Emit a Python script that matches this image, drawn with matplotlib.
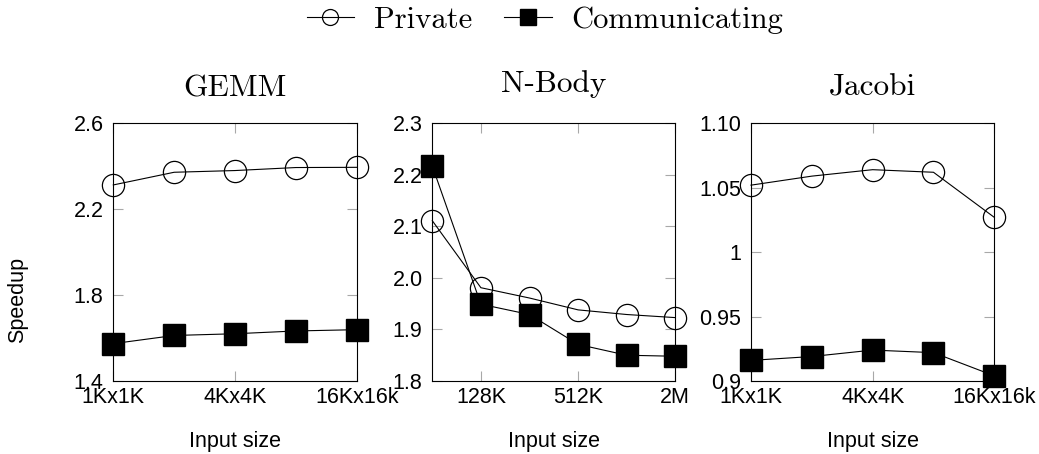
"""
Speedup of private vs communicating variants for GEMM, N-Body and Jacobi
across input sizes.
"""

import matplotlib
matplotlib.use("Agg")
import matplotlib.pyplot as plt
from matplotlib.lines import Line2D

# GEMM
gemm_sizes = ["1Kx1K", "2Kx2K", "4Kx4K", "8Kx8K", "16Kx16k"]
gemm_private = [2.313, 2.372, 2.380, 2.394, 2.395]
gemm_comm = [1.574, 1.612, 1.620, 1.633, 1.639]

# N-Body
nbody_sizes = ["64K", "128K", "256K", "512K", "1M", "2M"]
nbody_private = [2.111, 1.981, 1.961, 1.938, 1.929, 1.923]
nbody_comm = [2.217, 1.949, 1.929, 1.871, 1.850, 1.848]

# Jacobi
jacobi_sizes = ["1Kx1K", "2Kx2K", "4Kx4K", "8Kx8K", "16Kx16k"]
jacobi_private = [1.052, 1.059, 1.064, 1.062, 1.027]
jacobi_comm = [0.916, 0.919, 0.924, 0.922, 0.904]

panels = [
    ("GEMM", gemm_sizes, gemm_private, gemm_comm, [0, 2, 4],
     (1.4, 2.6), [1.4, 1.8, 2.2, 2.6], ["1.4", "1.8", "2.2", "2.6"], 19.5),
    ("N-Body", nbody_sizes, nbody_private, nbody_comm, [1, 3, 5],
     (1.8, 2.3), [1.8, 1.9, 2.0, 2.1, 2.2, 2.3],
     ["1.8", "1.9", "2.0", "2.1", "2.2", "2.3"], 22.5),
    ("Jacobi", jacobi_sizes, jacobi_private, jacobi_comm, [0, 2, 4],
     (0.9, 1.1), [0.9, 0.95, 1.0, 1.05, 1.1], ["0.9", "0.95", "1", "1.05", "1.10"], 20.0),
]

SERIF = "cmr10"
SANS = "Liberation Sans"
W, H = 1039, 454

fig = plt.figure(figsize=(W / 100, H / 100), dpi=100)

# axes boxes in pixels: left, right, top, bottom
boxes = [(113.3, 356.7), (432.3, 675.3), (751.0, 994.3)]
top_px, bottom_px = 123.3, 381.0

for (title, sizes, priv, comm, ticks, ylim, yticks, ylabels, tpad), (l, r) in zip(panels, boxes):
    ax = fig.add_axes([l / W, 1 - bottom_px / H, (r - l) / W, (bottom_px - top_px) / H])
    x = list(range(len(sizes)))
    ax.plot(x, priv, color="black", lw=0.8, marker="o", ms=16,
            mfc="none", mec="black", mew=0.9, clip_on=False, zorder=3)
    ax.plot(x, comm, color="black", lw=0.8, marker="s", ms=16,
            mfc="black", mec="black", clip_on=False, zorder=3)
    ax.set_xlim(0, len(sizes) - 1)
    ax.set_ylim(*ylim)
    ax.set_xticks(ticks)
    ax.set_xticklabels([sizes[i] for i in ticks], fontfamily=SANS, fontsize=15.5)
    ax.set_yticks(yticks)
    ax.set_yticklabels(ylabels, fontfamily=SANS, fontsize=15.5)
    ax.tick_params(direction="in", top=True, right=True, length=7.5,
                   width=0.8, color="#a8a8a8")
    ax.tick_params(axis="x", pad=4)
    ax.tick_params(axis="y", pad=7)
    for sp in ax.spines.values():
        sp.set_linewidth(0.8)
    ax.set_title(title, fontfamily=SERIF, fontsize=22.5, pad=tpad)
    ax.set_xlabel("Input size", fontfamily=SANS, fontsize=15.5, labelpad=17)

fig.text(18 / W, 1 - 300 / H, "Speedup", rotation=90, ha="center", va="center",
         fontfamily=SANS, fontsize=15.5)

handles = [
    Line2D([], [], color="black", lw=0.8, marker="o", ms=11.5, mfc="none", mec="black", mew=0.9),
    Line2D([], [], color="black", lw=0.8, marker="s", ms=11.5, mfc="black", mec="black"),
]
fig.legend(handles, ["Private", "Communicating"], loc="center", bbox_to_anchor=(545 / W, 1 - 20 / H),
           ncol=2, frameon=False, prop={"family": SERIF, "size": 22},
           handlelength=1.55, handletextpad=0.65, columnspacing=1.05)

fig.savefig("out.png", dpi=100)
